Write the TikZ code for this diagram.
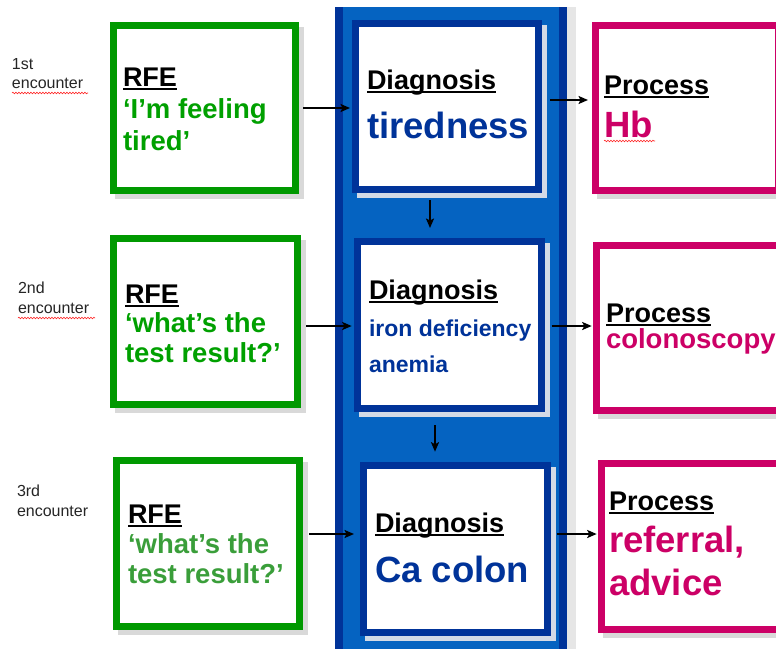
\documentclass[tikz,border=0pt]{standalone}
\usepackage{fontspec}
\setmainfont{Liberation Sans}
\usetikzlibrary{arrows.meta,decorations.pathmorphing}
\definecolor{grn}{HTML}{009900}
\definecolor{grntxt}{HTML}{00A000}
\definecolor{grntxtb}{HTML}{3A9E3A}
\definecolor{mag}{HTML}{CC0066}
\definecolor{dblue}{HTML}{003399}
\definecolor{lblue}{HTML}{0563C1}
\definecolor{shd}{HTML}{D9D9D9}
\definecolor{shdb}{HTML}{D3DAE6}
\definecolor{colshd}{HTML}{E6E6E6}
\definecolor{enc}{HTML}{262626}
\newcommand\ulx[1]{\setbox0=\hbox{#1}\rlap{\rule[-4.4pt]{\wd0}{2.6pt}}\box0}
\begin{document}
\begin{tikzpicture}[x=1pt,y=-1pt,
  boxbase/.style={line width=7pt, fill=white, inner sep=0pt, outer sep=0pt},
  shadowed/.style={preaction={draw=#1, fill=#1, transform canvas={xshift=4.5pt,yshift=-4.5pt}}},
  rfebox/.style={boxbase, draw=grn, shadowed=shd},
  diagbox/.style={boxbase, draw=dblue, shadowed=shdb},
  procbox/.style={boxbase, draw=mag, shadowed=shd},
  txt/.style={anchor=base west, inner sep=0pt, outer sep=0pt},
  enclbl/.style={txt, text=enc, font=\fontsize{16}{19}\selectfont},
  head/.style={txt, font=\fontsize{27}{32}\selectfont\bfseries},
  body/.style={txt, font=\fontsize{27.5}{32}\selectfont\bfseries},
  big/.style={txt, font=\fontsize{36.5}{40}\selectfont\bfseries},
  arr/.style={draw=black, line width=2pt, -{Stealth[length=9.5pt,width=8pt,inset=2pt]}},
  spell/.style={draw=red!85, line width=0.6pt, decorate, decoration={snake, amplitude=0.8pt, segment length=3pt}}
]
\useasboundingbox (0,0) rectangle (776,648);
\clip (0,0) rectangle (776,648);
\fill[white] (0,0) rectangle (776,648);

% blue column
\fill[colshd] (567,7) rectangle (576,660);
\fill[lblue] (335,7) rectangle (567,660);
\fill[dblue] (335,7) rectangle (343,660);
\fill[dblue] (559,7) rectangle (567,660);

% encounter labels
\node[enclbl] (e1a) at (12,69) {1st};
\node[enclbl] (e1b) at (12,88) {encounter};
\node[enclbl] (e2a) at (18,293) {2nd};
\node[enclbl] (e2b) at (18,313) {encounter};
\node[enclbl] (e3a) at (17,496) {3rd};
\node[enclbl] (e3b) at (17,516) {encounter};
\draw[spell] (12,93) -- (88,93);
\draw[spell] (18,318) -- (95,318);

% boxes
\node[rfebox, minimum width=182pt, minimum height=165pt] (rfe1) at (204.5,108) {};
\node[rfebox, minimum width=184pt, minimum height=166pt] (rfe2) at (205.5,321.5) {};
\node[rfebox, minimum width=183pt, minimum height=166pt] (rfe3) at (208,543.5) {};
\node[diagbox, minimum width=183pt, minimum height=166pt] (dg1) at (447,106.5) {};
\node[diagbox, minimum width=184pt, minimum height=167pt] (dg2) at (449.5,325) {};
\node[diagbox, minimum width=184pt, minimum height=167pt] (dg3) at (455.5,549) {};
\node[procbox, minimum width=183pt, minimum height=165pt] (pr1) at (687,108) {};
\node[procbox, minimum width=183pt, minimum height=165pt] (pr2) at (688,328) {};
\node[procbox, minimum width=183pt, minimum height=166pt] (pr3) at (693,546.5) {};

% RFE texts
\node[head] (r1h) at (123,86) {\ulx{RFE}};
\node[body, text=grntxt] (r1a) at (123,118) {‘I’m feeling};
\node[body, text=grntxt] (r1b) at (123,150) {tired’};
\node[head] (r2h) at (125,303) {\ulx{RFE}};
\node[body, text=grntxt] (r2a) at (125,332) {‘what’s the};
\node[body, text=grntxt] (r2b) at (125,362) {test result?’};
\node[head] (r3h) at (128,523) {\ulx{RFE}};
\node[body, text=grntxtb] (r3a) at (128,553) {‘what’s the};
\node[body, text=grntxtb] (r3b) at (128,583) {test result?’};

% Diagnosis texts
\node[head] (d1h) at (367,89) {\ulx{Diagnosis}};
\node[big, text=dblue] (d1a) at (367,138) {tiredness};
\node[head] (d2h) at (369,299) {\ulx{Diagnosis}};
\node[txt, text=dblue, font=\fontsize{23}{28}\selectfont\bfseries] (d2a) at (369,336) {iron deficiency};
\node[txt, text=dblue, font=\fontsize{23}{28}\selectfont\bfseries] (d2b) at (369,372) {anemia};
\node[head] (d3h) at (375,532) {\ulx{Diagnosis}};
\node[big, text=dblue] (d3a) at (375,582) {Ca colon};

% Process texts
\node[head] (p1h) at (604,94) {\ulx{Process}};
\node[big, text=mag] (p1a) at (604,137) {Hb};
\draw[spell] (604,141) -- (655,141);
\node[head] (p2h) at (606,322) {\ulx{Process}};
\node[body, text=mag] (p2a) at (606,348) {colonoscopy};
\node[head] (p3h) at (609,510) {\ulx{Process}};
\node[big, text=mag] (p3a) at (609,552) {referral,};
\node[big, text=mag] (p3b) at (609,595) {advice};

% arrows
\draw[arr, shorten <=7.5pt, shorten >=5.5pt] (rfe1.east) -- (rfe1.east -| dg1.west);
\draw[arr, shorten <=11.5pt, shorten >=7.5pt] ([yshift=6.5pt]dg1.east) -- ([yshift=6.5pt]dg1.east -| pr1.west);
\draw[arr, shorten <=10.5pt, shorten >=13.5pt] ([xshift=-17pt]dg1.south) -- ([xshift=-17pt]dg1.south |- dg2.north);
\draw[arr, shorten <=8.5pt, shorten >=5.8pt] ([yshift=-4.5pt]rfe2.east) -- ([yshift=-4.5pt]rfe2.east -| dg2.west);
\draw[arr, shorten <=10pt, shorten >=4.8pt] ([yshift=-1pt]dg2.east) -- ([yshift=-1pt]dg2.east -| pr2.west);
\draw[arr, shorten <=16.5pt, shorten >=13.8pt] ([xshift=-14.5pt]dg2.south) -- ([xshift=-14.5pt]dg2.south |- dg3.north);
\draw[arr, shorten <=9.5pt, shorten >=9.5pt] ([yshift=9.5pt]rfe3.east) -- ([yshift=9.5pt]rfe3.east -| dg3.west);
\draw[arr, shorten <=9pt, shorten >=4.8pt] ([yshift=15pt]dg3.east) -- ([yshift=15pt]dg3.east -| pr3.west);
\end{tikzpicture}
\end{document}
